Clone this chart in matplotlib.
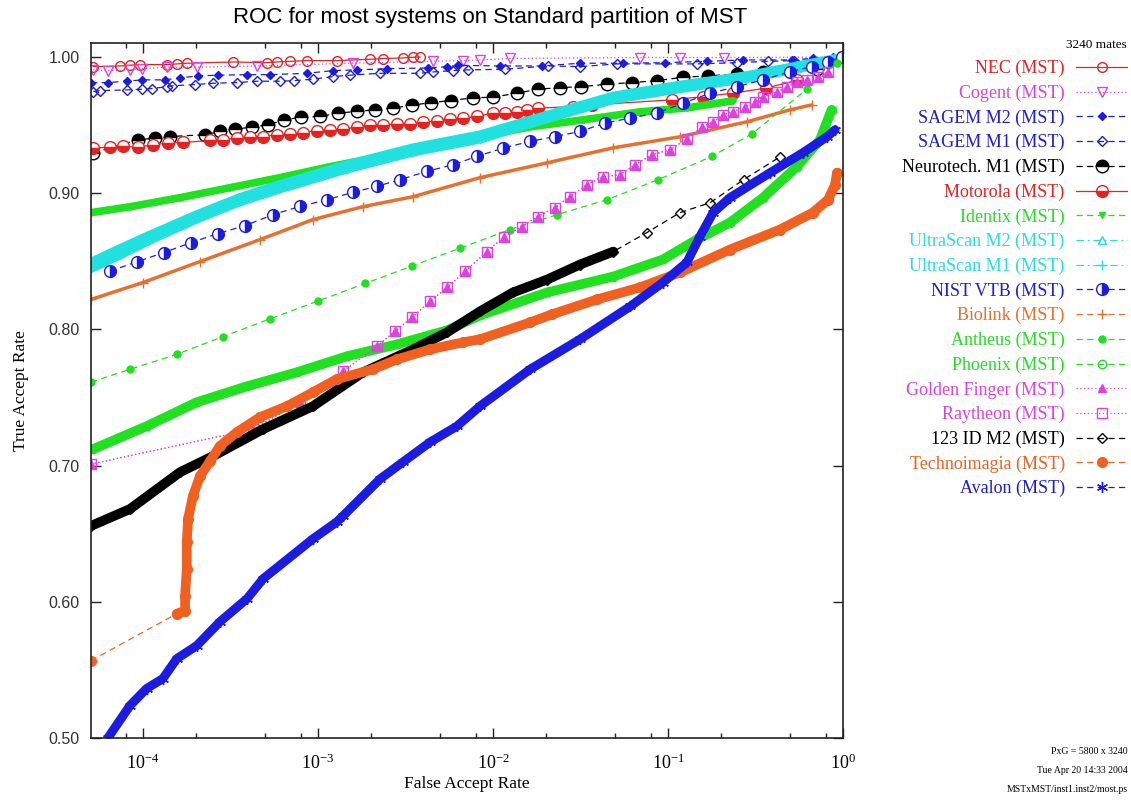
import numpy as np
import matplotlib
matplotlib.use("Agg")
import matplotlib.pyplot as plt
from matplotlib.ticker import LogLocator, FuncFormatter, NullFormatter, FixedLocator

SAVE_FIG = "out.png"

# =========================
# data: (FAR, TAR) per system
# =========================
nec_far = [5.2e-5, 7.4e-5, 8.4e-5, 9.6e-5, 1.37e-4, 1.57e-4, 1.78e-4, 3.27e-4, 5.1e-4,
           5.8e-4, 6.9e-4, 8.7e-4, 1.28e-3, 1.98e-3, 2.35e-3, 3.06e-3, 3.49e-3, 3.83e-3]
nec_tar = [0.9929, 0.9934, 0.9939, 0.9944, 0.9944, 0.9949, 0.9954, 0.9963, 0.9958,
           0.9963, 0.9968, 0.9973, 0.9973, 0.9983, 0.9988, 0.9993, 0.9998, 1.0]

cogent_far = [5.2e-5, 6.3e-5, 8.4e-5, 9.9e-5, 1.37e-4, 2.04e-4, 4.48e-4, 1.58e-3,
              4.54e-3, 6.75e-3, 8.4e-3, 1.25e-2, 6.9e-2, 0.117, 0.21, 1.0]
cogent_tar = [0.9905, 0.9900, 0.9905, 0.9914, 0.9925, 0.9925, 0.9934, 0.9954,
              0.9968, 0.9973, 0.9978, 0.9989, 0.9996, 0.9996, 0.9996, 1.0]

sagem2_far = [5.05e-5, 6.3e-5, 8.1e-5, 9.87e-5, 1.33e-4, 1.63e-4, 2.06e-4, 2.68e-4, 3.93e-4,
              5.32e-4, 8.65e-4, 1.22e-3, 1.67e-3, 2.48e-3, 4.25e-3, 5.46e-3, 6.31e-3, 1.1e-2,
              1.9e-2, 3.14e-2, 5.55e-2, 9.6e-2, 0.166, 0.268, 0.511, 0.67, 0.96]
sagem2_tar = [0.981, 0.9812, 0.9822, 0.9832, 0.9832, 0.9846, 0.9861, 0.9866, 0.987,
              0.987, 0.988, 0.99, 0.9905, 0.9914, 0.9919, 0.9929, 0.9939, 0.9934,
              0.9934, 0.9954, 0.9954, 0.9958, 0.9968, 0.9978, 0.9978, 0.999, 1.0]

sagem1_far = [5.2e-5, 5.7e-5, 8.1e-5, 9.87e-5, 1.13e-4, 1.37e-4, 1.46e-4, 1.98e-4, 2.52e-4,
              3.44e-4, 4.48e-4, 6.07e-4, 7.3e-4, 9.36e-4, 1.22e-3, 1.52e-3, 2.26e-3, 3.83e-3,
              4.54e-3, 5.92e-3, 7.23e-3, 1.17e-2, 2.07e-2, 3.14e-2, 5.11e-2, 0.146, 0.247,
              0.372, 0.522, 0.67, 0.876]
sagem1_tar = [0.9746, 0.9753, 0.9758, 0.9763, 0.9768, 0.9782, 0.9788, 0.9797, 0.9807,
              0.9812, 0.9822, 0.9822, 0.9826, 0.9837, 0.9856, 0.9866, 0.988, 0.988,
              0.989, 0.99, 0.9905, 0.991, 0.9934, 0.9929, 0.9949, 0.9949, 0.9958,
              0.9968, 0.9973, 0.9978, 0.999]

neuro_far = [5.2e-5, 9.37e-5, 1.17e-4, 1.43e-4, 2.26e-4, 2.76e-4, 3.37e-4, 4.19e-4, 5.19e-4,
             6.42e-4, 8.03e-4, 1.03e-3, 1.3e-3, 1.67e-3, 2.11e-3, 2.67e-3, 3.44e-3, 4.44e-3,
             5.73e-3, 7.69e-3, 1.0e-2, 1.37e-2, 1.8e-2, 2.42e-2, 3.2e-2, 4.48e-2, 6.22e-2,
             8.6e-2, 0.122, 0.169, 0.247, 0.349, 0.708]
neuro_tar = [0.9295, 0.9392, 0.9404, 0.9416, 0.9429, 0.9453, 0.947, 0.9485, 0.9502,
             0.9538, 0.9558, 0.9563, 0.9588, 0.96, 0.9612, 0.9624, 0.9646, 0.9665,
             0.968, 0.97, 0.9705, 0.9734, 0.9763, 0.9775, 0.9782, 0.98, 0.9812,
             0.9826, 0.9851, 0.9861, 0.9875, 0.9892, 0.991]

moto_far = [5.2e-5, 6.47e-5, 7.7e-5, 9.37e-5, 1.14e-4, 1.39e-4, 1.69e-4, 2.42e-4, 2.87e-4, 3.44e-4,
            4.08e-4, 4.85e-4, 5.83e-4, 6.92e-4, 8.2e-4, 9.87e-4, 1.17e-3, 1.39e-3, 1.67e-3, 1.98e-3,
            2.35e-3, 2.83e-3, 3.36e-3, 3.98e-3, 4.78e-3, 5.68e-3, 6.75e-3, 8.1e-3, 1.0e-2, 1.17e-2,
            1.37e-2, 1.56e-2, 1.8e-2, 2.86e-2, 3.66e-2, 0.105, 0.159, 0.235, 0.361, 0.545]
moto_tar = [0.9331, 0.9338, 0.9343, 0.9338, 0.9355, 0.9368, 0.9372, 0.9387, 0.9392, 0.9404,
            0.9412, 0.9416, 0.9429, 0.9436, 0.9445, 0.946, 0.9465, 0.947, 0.9485, 0.9502,
            0.9502, 0.9509, 0.9509, 0.9519, 0.9533, 0.9544, 0.9551, 0.9563, 0.9588, 0.9592,
            0.9599, 0.9607, 0.9624, 0.9636, 0.9648, 0.9685, 0.9709, 0.9734, 0.9771, 0.9828]

identix_far = [5.05e-5, 8.43e-5, 1.63e-4, 3.14e-4, 6.07e-4, 1.17e-3, 2.26e-3, 4.37e-3,
               8.43e-3, 1.63e-2, 3.26e-2, 6.92e-2, 0.128, 0.235]
identix_tar = [0.8857, 0.890, 0.8967, 0.904, 0.9114, 0.9194, 0.9267, 0.9348,
               0.9414, 0.9487, 0.9538, 0.9597, 0.9626, 0.9678]

ultra_far = [5.05e-5, 7.4e-5, 1.1e-4, 2.04e-4, 3.58e-4, 6.07e-4, 1.46e-3, 3.49e-3,
             8.43e-3, 2.04e-2, 4.87e-2, 0.117, 0.282, 0.568, 0.9]
ultra2_tar = [0.849, 0.859, 0.869, 0.884, 0.8965, 0.906, 0.9205, 0.933,
              0.9425, 0.957, 0.971, 0.979, 0.986, 0.9935, 0.9985]
ultra1_tar = [0.845, 0.855, 0.866, 0.8815, 0.894, 0.9035, 0.918, 0.9305,
              0.940, 0.955, 0.969, 0.977, 0.9845, 0.992, 0.997]

nist_far = [6.47e-5, 9.3e-5, 1.32e-4, 1.88e-4, 2.68e-4, 3.83e-4, 5.53e-4, 7.89e-4, 1.13e-3,
            1.58e-3, 2.17e-3, 2.94e-3, 4.19e-3, 5.92e-3, 8.1e-3, 1.14e-2, 1.63e-2, 2.26e-2,
            3.14e-2, 4.35e-2, 6.07e-2, 8.6e-2, 0.122, 0.174, 0.247, 0.349, 0.498, 0.662,
            0.821, 0.99]
nist_tar = [0.8427, 0.8498, 0.8564, 0.8637, 0.8703, 0.8762, 0.8842, 0.8903, 0.8952,
            0.9006, 0.905, 0.9099, 0.916, 0.9209, 0.927, 0.9331, 0.938, 0.9416,
            0.9453, 0.9514, 0.9551, 0.9588, 0.9661, 0.9734, 0.9782, 0.9832, 0.9892, 0.9929,
            0.9966, 1.0]

biolink_far = [5.05e-5, 1.0e-4, 2.12e-4, 4.66e-4, 9.36e-4, 1.81e-3, 3.49e-3, 8.43e-3,
               2.04e-2, 4.87e-2, 0.117, 0.282, 0.498, 0.662]
biolink_tar = [0.822, 0.8344, 0.8498, 0.8659, 0.8806, 0.8901, 0.8974, 0.9114,
               0.9223, 0.9333, 0.9414, 0.9524, 0.9612, 0.9648]

antheus_far = [5.05e-5, 8.43e-5, 1.56e-4, 2.87e-4, 5.32e-4, 1.0e-3, 1.86e-3, 3.44e-3, 6.48e-3,
               1.25e-2, 2.32e-2, 4.48e-2, 8.77e-2, 0.178, 0.302, 0.62, 0.924]
antheus_tar = [0.7612, 0.7707, 0.7817, 0.7947, 0.8077, 0.8208, 0.8337, 0.8465, 0.8596,
               0.8733, 0.8842, 0.8952, 0.9099, 0.927, 0.9436, 0.9763, 0.9956]

phoenix_far = [5.2e-5, 1.05e-4, 2.03e-4, 3.93e-4, 7.59e-4, 1.46e-3, 2.83e-3, 5.46e-3, 8.43e-3,
               2.04e-2, 4.87e-2, 9.35e-2, 0.146, 0.226, 0.349, 0.544, 0.739, 0.86]
phoenix_tar = [0.7121, 0.7289, 0.7465, 0.7582, 0.7685, 0.7802, 0.7890, 0.7993, 0.8103,
               0.8271, 0.8388, 0.8513, 0.8659, 0.8784, 0.8967, 0.9194, 0.9392, 0.9612]

golden_far = [5.05e-5, 4.25e-4, 7.89e-4, 1.39e-3, 2.17e-3, 2.75e-3, 3.45e-3, 4.37e-3, 5.46e-3,
              6.92e-3, 9.24e-3, 1.16e-2, 1.46e-2, 1.8e-2, 2.26e-2, 2.75e-2, 3.44e-2, 4.24e-2,
              5.32e-2, 6.48e-2, 8.09e-2, 0.103, 0.128, 0.157, 0.181, 0.206, 0.235, 0.275,
              0.313, 0.349, 0.419, 0.481, 0.548, 0.62, 0.716, 0.821]
golden_tar = [0.7011, 0.7267, 0.7465, 0.7692, 0.7875, 0.7985, 0.8088, 0.8205, 0.8308,
              0.8425, 0.8571, 0.8681, 0.8755, 0.8828, 0.8894, 0.8974, 0.9062, 0.9121,
              0.9136, 0.9209, 0.9282, 0.9319, 0.9399, 0.9487, 0.9524, 0.9575, 0.9597, 0.9634,
              0.967, 0.9707, 0.9744, 0.978, 0.9817, 0.9832, 0.9853, 0.989]
# Raytheon sits on top of Golden Finger in the picture
raytheon_far = golden_far
raytheon_tar = golden_tar

id123_far = [5.05e-5, 8.43e-5, 1.63e-4, 2.52e-4, 4.85e-4, 9.36e-4, 1.81e-3, 3.49e-3, 5.46e-3,
             8.43e-3, 1.3e-2, 2.04e-2, 3.14e-2, 4.87e-2, 7.58e-2, 0.117, 0.174, 0.27, 0.437]
id123_tar = [0.6557, 0.6681, 0.6952, 0.707, 0.7267, 0.7436, 0.7685, 0.7853, 0.7978,
             0.8132, 0.8271, 0.8366, 0.8476, 0.8571, 0.8711, 0.8857, 0.893, 0.9099, 0.9267]

techno_far = [5.05e-5, 1.56e-4, 1.74e-4, 1.74e-4, 1.78e-4, 1.78e-4, 1.81e-4, 1.93e-4, 2.12e-4,
              2.42e-4, 2.75e-4, 3.44e-4, 4.66e-4, 6.65e-4, 9.36e-4, 1.28e-3, 2.06e-3, 2.83e-3,
              4.37e-3, 6.75e-3, 8.43e-3, 1.63e-2, 2.17e-2, 3.94e-2, 6.92e-2, 0.117, 0.226,
              0.437, 0.672, 0.821, 0.9, 0.924]
techno_tar = [0.5568, 0.5912, 0.5934, 0.6044, 0.6242, 0.6440, 0.6608, 0.6777, 0.6923,
              0.7033, 0.7143, 0.7245, 0.7355, 0.7436, 0.7538, 0.7634, 0.7707, 0.7780,
              0.7853, 0.7905, 0.7927, 0.8051, 0.8110, 0.8220, 0.8308, 0.8418, 0.8586,
              0.8733, 0.8857, 0.8952, 0.9062, 0.915]

avalon_far = [6.3e-5, 8.43e-5, 1.05e-4, 1.3e-4, 1.56e-4, 2.03e-4, 2.75e-4, 3.93e-4, 4.85e-4,
              9.36e-4, 1.28e-3, 1.39e-3, 2.26e-3, 3.06e-3, 4.37e-3, 6.22e-3, 8.43e-3, 1.63e-2,
              3.14e-2, 6.07e-2, 9.35e-2, 0.128, 0.152, 0.181, 0.226, 0.383, 0.59, 0.81, 0.9]
avalon_tar = [0.500, 0.5238, 0.5363, 0.5436, 0.5582, 0.5678, 0.5853, 0.6022, 0.6168,
              0.6462, 0.6586, 0.6630, 0.6901, 0.7026, 0.7172, 0.7289, 0.7436, 0.7707,
              0.7927, 0.8168, 0.8344, 0.8491, 0.8681, 0.8857, 0.8967, 0.915, 0.9297,
              0.9414, 0.9465]

x_ticks = [1e-4, 1e-3, 1e-2, 1e-1, 1e0]
y_ticks = [0.5, 0.6, 0.7, 0.8, 0.9, 1.0]

# =========================
# styles
# =========================
RED = "#e82020"
PINK = "#e040e0"
BLUE = "#1c1ce0"
GREEN = "#20e020"
CYAN = "#20e0e0"
ORANGE = "#f06020"
BROWN = "#e8702e"

DASH = (0, (5, 3.5))
DOT = (0, (1, 2))
DASHDOT = (0, (6, 3, 1.5, 3))

# label, far, tar, color, linestyle, marker kwargs, band width (0 = none), band slice
SERIES = [
    ("NEC (MST)", nec_far, nec_tar, RED, "-", dict(marker="o", ms=7, mfc="none"), 0, None),
    ("Cogent (MST)", cogent_far, cogent_tar, PINK, DOT, dict(marker="v", ms=6.5, mfc="none"), 0, None),
    ("SAGEM M2 (MST)", sagem2_far, sagem2_tar, BLUE, DASH, dict(marker="D", ms=4.5), 0, None),
    ("SAGEM M1 (MST)", sagem1_far, sagem1_tar, BLUE, DASH, dict(marker="D", ms=5, mfc="none"), 0, None),
    ("Neurotech. M1 (MST)", neuro_far, neuro_tar, "black", DASH,
     dict(marker="o", ms=9, fillstyle="top", mfc="black", markerfacecoloralt="white"), 0, None),
    ("Motorola (MST)", moto_far, moto_tar, RED, "-",
     dict(marker="o", ms=8.5, fillstyle="bottom", mfc=RED, markerfacecoloralt="white"), 0, None),
    ("Identix (MST)", identix_far, identix_tar, GREEN, DASH, dict(marker="v", ms=5), 5.5, None),
    ("UltraScan M2 (MST)", ultra_far, ultra2_tar, CYAN, DASHDOT, dict(marker="^", ms=6, mfc="none"), 7, None),
    ("UltraScan M1 (MST)", ultra_far, ultra1_tar, CYAN, DASHDOT, dict(marker="+", ms=7), 7, None),
    ("NIST VTB (MST)", nist_far, nist_tar, BLUE, DASH,
     dict(marker="o", ms=8.5, fillstyle="right", mfc=BLUE, markerfacecoloralt="white"), 0, None),
    ("Biolink (MST)", biolink_far, biolink_tar, BROWN, DASH, dict(marker="+", ms=7), 2.5, None),
    ("Antheus (MST)", antheus_far, antheus_tar, GREEN, DASH, dict(marker="o", ms=5), 0, None),
    ("Phoenix (MST)", phoenix_far, phoenix_tar, GREEN, DASH, dict(marker="o", ms=6, mfc="none"), 7, None),
    ("Golden Finger (MST)", golden_far, golden_tar, PINK, DOT, dict(marker="^", ms=5.5), 0, None),
    ("Raytheon (MST)", raytheon_far, raytheon_tar, PINK, DOT, dict(marker="s", ms=7.5, mfc="none"), 0, None),
    ("123 ID M2 (MST)", id123_far, id123_tar, "black", DASH, dict(marker="D", ms=5, mfc="none"), 7, (0, 14)),
    ("Technoimagia (MST)", techno_far, techno_tar, ORANGE, DASH,
     dict(marker="o", ms=7, mfc=ORANGE, mec=ORANGE), 7, (1, None)),
    ("Avalon (MST)", avalon_far, avalon_tar, BLUE, DASH, dict(marker=(6, 2, 0), ms=8), 6.5, None),
]


def draw_roc():
    fig = plt.figure(figsize=(11.31, 8.01), dpi=100)
    ax = fig.add_axes([0.0805, 0.0787, 0.6649, 0.8677])

    handles = []
    for label, far, tar, color, ls, mk, band, sl in SERIES:
        if band:
            s = slice(*sl) if sl else slice(None)
            ax.plot(far[s], tar[s], color=color, lw=band, solid_capstyle="round",
                    solid_joinstyle="round", label="_nolegend_")
        mk = dict(mk)
        mk.setdefault("mec", color)
        line, = ax.plot(far, tar, color=color, ls=ls, lw=0.9, mew=1.0, label=label, **mk)
        handles.append(line)

    ax.set_xscale("log")
    ax.set_xlim(5.05e-5, 1.0)
    ax.set_ylim(0.5, 1.0103)

    ax.xaxis.set_major_locator(FixedLocator(x_ticks))
    ax.xaxis.set_minor_locator(LogLocator(base=10, subs=(2, 5, 8), numticks=20))
    ax.xaxis.set_minor_formatter(NullFormatter())
    ax.xaxis.set_major_formatter(FuncFormatter(
        lambda v, p: r"$\mathregular{10^{%d}}$" % int(round(np.log10(v)))))
    ax.set_yticks(y_ticks)
    ax.yaxis.set_major_formatter(FuncFormatter(lambda v, p: "%.2f" % v))

    ax.tick_params(which="both", direction="in", top=True, right=True, width=1.0, color="#222222")
    ax.tick_params(which="major", length=7)
    ax.tick_params(which="minor", length=3.6)
    ax.tick_params(axis="x", pad=11)
    ax.tick_params(axis="y", pad=8, labelcolor="#333333")
    for t in ax.get_xticklabels():
        t.set_fontfamily("Liberation Serif")
        t.set_fontsize(13)
    for t in ax.get_yticklabels():
        t.set_fontfamily("Liberation Sans")
        t.set_fontsize(11.5)
    for sp in ax.spines.values():
        sp.set_linewidth(1.2)
        sp.set_color("#222222")

    ax.set_xlabel("False Accept Rate", family="Liberation Serif", fontsize=12.5)
    ax.set_ylabel("True Accept Rate", family="Liberation Serif", fontsize=12.5)
    ax.xaxis.set_label_coords(0.5, -0.055)
    ax.yaxis.set_label_coords(-0.083, 0.5)

    fig.text(0.433, 1 - 18 / 801, "ROC for most systems on Standard partition of MST",
             ha="center", va="center", family="Liberation Sans", fontsize=16)

    # legend on the right, text right-aligned in series colour
    fig.legend(handles=handles, loc="upper right", bbox_to_anchor=(1127 / 1131, 1 - 60 / 801),
               markerfirst=False, frameon=False, labelcolor="linecolor", numpoints=1,
               handlelength=2.8, handletextpad=0.65, labelspacing=0.41,
               borderpad=0, borderaxespad=0,
               prop=dict(family="Liberation Serif", size=13))

    fig.text(1127 / 1131, 1 - 45 / 801, "3240 mates", ha="right", va="center",
             family="Liberation Serif", fontsize=9.5)
    foot = ["PxG = 5800 x 3240", "Tue Apr 20 14:33 2004", "MSTxMST/inst1.inst2/most.ps"]
    for i, s in enumerate(foot):
        fig.text(1128 / 1131, 1 - (751 + 19.5 * i) / 801, s, ha="right", va="center",
                 family="Liberation Serif", fontsize=7)

    fig.savefig(SAVE_FIG, dpi=100)


if __name__ == "__main__":
    draw_roc()
